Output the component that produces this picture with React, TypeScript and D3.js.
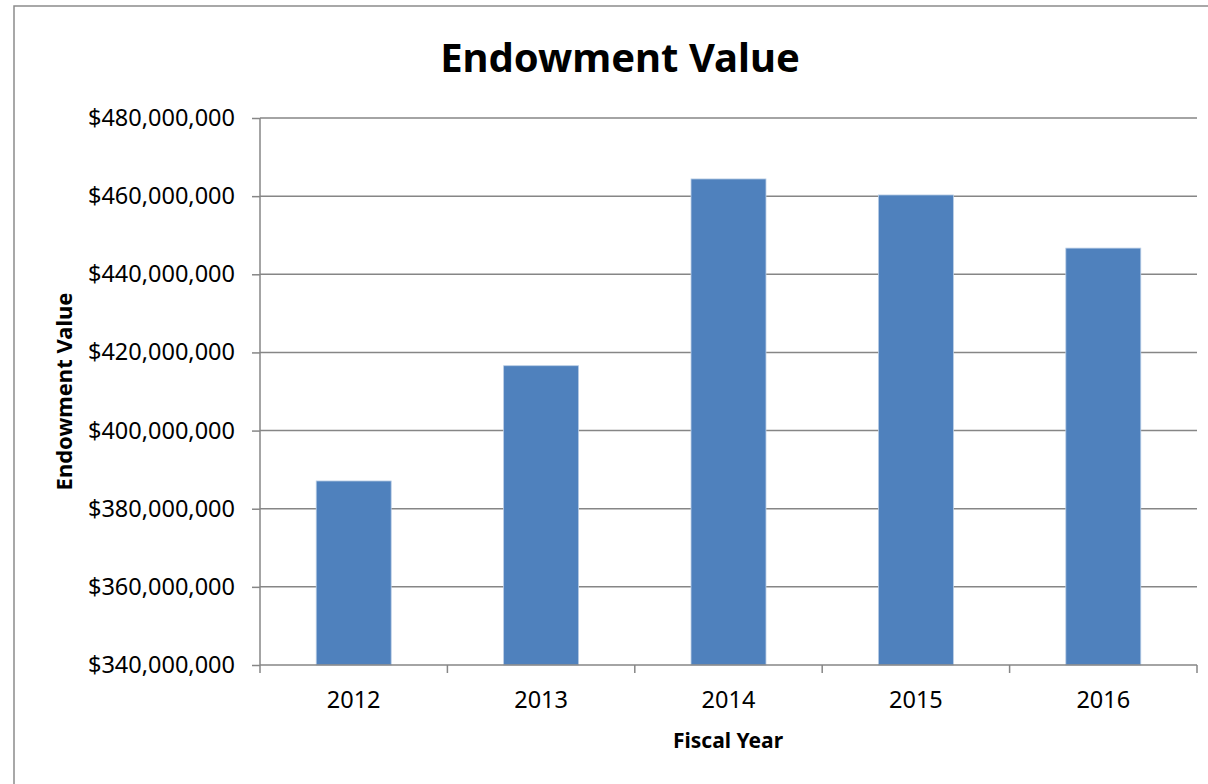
import { useEffect, useRef } from 'react';
import * as d3 from 'd3';

const years = ['2012', '2013', '2014', '2015', '2016'];
const endowment = [387100000, 416600000, 464400000, 460300000, 446700000];
const yTicks = [340000000, 360000000, 380000000, 400000000, 420000000, 440000000, 460000000, 480000000];

const W = 1208;
const H = 784;
const font = "'Noto Sans', sans-serif";

export default function App() {
  const ref = useRef<SVGSVGElement | null>(null);

  useEffect(() => {
    if (!ref.current) return;
    const svg = d3.select(ref.current);
    svg.selectAll('*').remove();

    const plot = { left: 260, right: 1197, top: 118, bottom: 665 };

    // outer chart frame: only the left and top edges are on the page
    svg
      .append('path')
      .attr('d', `M14,${H}V6H${W}`)
      .attr('fill', 'none')
      .attr('stroke', '#8c8c8c')
      .attr('stroke-width', 1.5);

    const x = d3.scaleBand().domain(years).range([plot.left, plot.right]).paddingInner(0.6).paddingOuter(0.3);
    const band = d3.scaleBand().domain(years).range([plot.left, plot.right]);
    const y = d3.scaleLinear().domain([340000000, 480000000]).range([plot.bottom, plot.top]);

    // gridlines
    svg
      .append('g')
      .selectAll('line')
      .data(yTicks.slice(1))
      .join('line')
      .attr('x1', plot.left)
      .attr('x2', plot.right)
      .attr('y1', d => y(d))
      .attr('y2', d => y(d))
      .attr('stroke', '#868686')
      .attr('stroke-width', 1.5);

    // bars
    svg
      .append('g')
      .selectAll('rect')
      .data(endowment)
      .join('rect')
      .attr('x', (_, i) => x(years[i]) ?? 0)
      .attr('width', x.bandwidth())
      .attr('y', d => y(d))
      .attr('height', d => plot.bottom - y(d))
      .attr('fill', '#4f81bd')
      .attr('stroke', '#b9cde5')
      .attr('stroke-width', 0.8);

    // y axis
    const yAxis = svg
      .append('g')
      .attr('transform', `translate(${plot.left},0)`)
      .call(
        d3
          .axisLeft(y)
          .tickValues(yTicks)
          .tickSize(8)
          .tickPadding(17)
          .tickFormat(d => '$' + d3.format(',')(d as number))
      );
    yAxis.select('.domain').attr('stroke', '#868686').attr('stroke-width', 1.5).attr('d', `M0,${plot.top}V${plot.bottom}`);
    yAxis.selectAll('.tick line').attr('stroke', '#868686').attr('stroke-width', 1.5);
    yAxis.selectAll('.tick text').attr('fill', '#000').attr('font-family', font).attr('font-size', 23.5);

    // x axis, ticks on category boundaries
    const xAxis = svg.append('g').attr('transform', `translate(0,${plot.bottom})`);
    xAxis
      .append('line')
      .attr('x1', plot.left)
      .attr('x2', plot.right)
      .attr('stroke', '#868686')
      .attr('stroke-width', 1.5);
    const bounds = years.map(yr => band(yr) ?? 0).concat([plot.right]);
    xAxis
      .selectAll('line.tk')
      .data(bounds)
      .join('line')
      .attr('class', 'tk')
      .attr('x1', d => d)
      .attr('x2', d => d)
      .attr('y1', 0)
      .attr('y2', 8)
      .attr('stroke', '#868686')
      .attr('stroke-width', 1.5);
    xAxis
      .selectAll('text')
      .data(years)
      .join('text')
      .attr('x', d => (band(d) ?? 0) + band.bandwidth() / 2)
      .attr('y', 43)
      .attr('text-anchor', 'middle')
      .attr('font-family', font)
      .attr('font-size', 23.5)
      .text(d => d);

    // titles
    svg
      .append('text')
      .attr('x', 620)
      .attr('y', 72)
      .attr('text-anchor', 'middle')
      .attr('font-family', font)
      .attr('font-weight', 'bold')
      .attr('font-size', 40)
      .text('Endowment Value');

    svg
      .append('text')
      .attr('x', 728)
      .attr('y', 748)
      .attr('text-anchor', 'middle')
      .attr('font-family', font)
      .attr('font-weight', 'bold')
      .attr('font-size', 21)
      .text('Fiscal Year');

    svg
      .append('text')
      .attr('transform', `translate(72,${(plot.top + plot.bottom) / 2}) rotate(-90)`)
      .attr('text-anchor', 'middle')
      .attr('font-family', font)
      .attr('font-weight', 'bold')
      .attr('font-size', 22)
      .text('Endowment Value');
  }, []);

  return (
    <>
      <style>{'html,body{margin:0;overflow:hidden;background:#fff}'}</style>
      <svg ref={ref} width={W} height={H} style={{ position: 'absolute', left: 0, top: 0, display: 'block' }} />
    </>
  );
}
